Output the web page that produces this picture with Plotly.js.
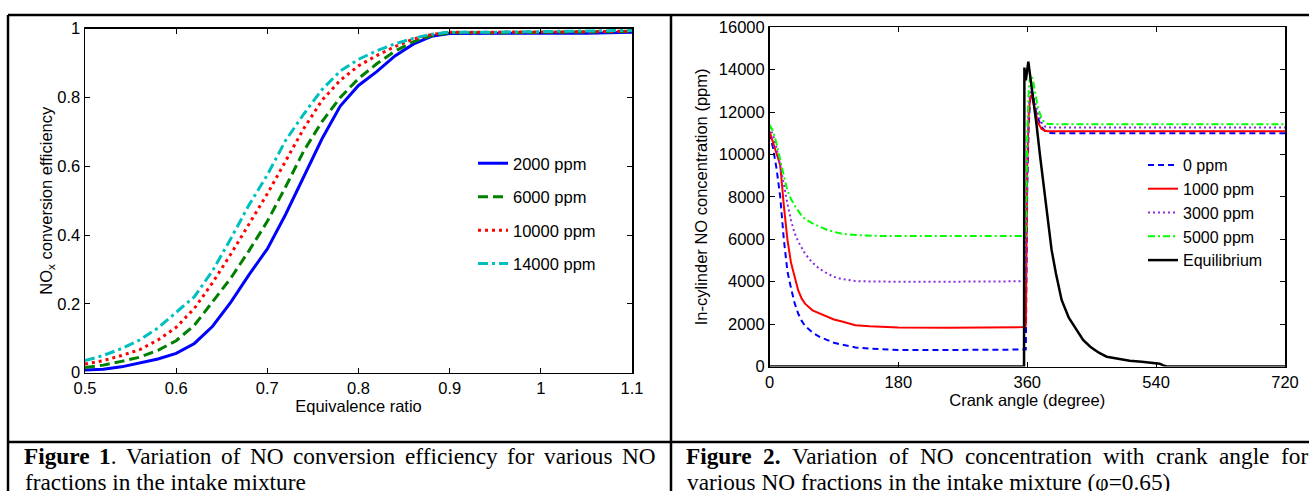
<!DOCTYPE html>
<html>
<head>
<meta charset="utf-8">
<script src="https://cdn.plot.ly/plotly-3.0.1.min.js"></script>
<style>
html,body{margin:0;padding:0;background:#fff;}
#chart{width:1309px;height:491px;}
</style>
</head>
<body>
<div id="chart"></div>
<script>
// ---------- Figure 1 data ----------
const phi = [0.5,0.52,0.54,0.56,0.58,0.6,0.62,0.64,0.66,0.68,0.7,0.72,0.74,0.76,0.78,0.8,0.82,0.84,0.86,0.88,0.9,0.95,1.0,1.05,1.1];
const eff2000  = [0.008,0.010,0.017,0.028,0.040,0.056,0.085,0.135,0.205,0.285,0.36,0.46,0.57,0.68,0.775,0.835,0.875,0.921,0.955,0.978,0.986,0.986,0.986,0.987,0.99];
const eff6000  = [0.015,0.022,0.033,0.045,0.065,0.093,0.138,0.205,0.275,0.355,0.44,0.54,0.645,0.73,0.80,0.855,0.898,0.935,0.962,0.980,0.988,0.988,0.989,0.99,0.992];
const eff10000 = [0.025,0.035,0.05,0.067,0.095,0.132,0.187,0.262,0.345,0.432,0.52,0.615,0.71,0.792,0.85,0.892,0.922,0.948,0.97,0.983,0.99,0.99,0.99,0.991,0.993];
const eff14000 = [0.035,0.05,0.07,0.095,0.13,0.175,0.221,0.297,0.39,0.488,0.575,0.675,0.752,0.823,0.877,0.911,0.936,0.956,0.972,0.984,0.99,0.99,0.991,0.992,0.995];
const fig1Names = ["2000 ppm","6000 ppm","10000 ppm","14000 ppm"];
const fig1XTicks = [0.5,0.6,0.7,0.8,0.9,1,1.1];
const fig1YTicks = [0,0.2,0.4,0.6,0.8,1];

// ---------- Figure 2 data ----------
const crankA = [0,5,10,15,20,25,30,35,40,45,50,60,70,80,90,100,120,140,160,180,250,357,358,359,360,362,364,366,368,370,375,380,385,390,400,500,720];
const no0    = [11000,10300,9300,8000,6000,4500,3700,3000,2500,2150,1900,1600,1400,1250,1120,1040,900,840,800,780,780,780,800,4500,8500,11300,12600,13000,12800,12300,11700,11300,11100,11020,11000,11000,11000];
const no1000 = [11100,10600,10000,9500,7600,6000,4900,4200,3600,3200,2950,2650,2500,2350,2220,2130,1950,1900,1870,1840,1830,1860,1950,6000,9500,11800,12700,12800,12500,12100,11500,11200,11120,11100,11100,11100,11100];
const no3000 = [11300,10900,10300,9500,8600,7700,6900,6300,5900,5600,5300,4900,4600,4400,4230,4130,4030,4010,4000,4000,4000,4020,4020,7000,10000,12200,13000,13100,12900,12600,11900,11500,11320,11280,11270,11270,11270];
const no5000 = [11400,11100,10500,9700,9000,8300,7900,7600,7350,7100,6950,6750,6600,6450,6350,6270,6200,6160,6150,6150,6150,6150,6150,8500,11000,13000,13700,13750,13500,13100,12200,11700,11480,11440,11430,11430,11430];
const crankEq = [0,355.5,356,358,361.5,366,370,373,378,385,390,394,400,408,418,429,438,448,460,471,490,503,520,536,545,550,555,720];
const noEq    = [0,0,14100,13500,14380,13300,12300,11400,9900,7900,6500,5500,4400,3137,2300,1722,1250,934,650,462,330,274,220,180,130,50,0,0];
const fig2Names = ["0 ppm","1000 ppm","3000 ppm","5000 ppm","Equilibrium"];
const fig2XTicks = [0,180,360,540,720];
const fig2YTicks = [0,2000,4000,6000,8000,10000,12000,14000,16000];

// ---------- captions ----------
const cap1Line1 = [["<b>Figure</b>",true],["<b>1</b>.",true],["Variation",false],["of",false],["NO",false],["conversion",false],["efficiency",false],["for",false],["various",false],["NO",false]];
const cap1Line2 = "fractions in the intake mixture";
const cap2Line1 = [["<b>Figure</b>",true],["<b>2.</b>",true],["Variation",false],["of",false],["NO",false],["concentration",false],["with",false],["crank",false],["angle",false],["for",false]];
const cap2Line2 = "various NO fractions in the intake mixture (φ=0.65)";

const W = 1309, H = 491;
const px = v => v / W;
const py = v => 1 - v / H;
const SANS = "Liberation Sans, Arial, sans-serif";
const SERIF = "Liberation Serif, Times New Roman, serif";

const traces = [];
const c1 = ["#0000FF","#008000","#FF0000","#00BFBF"];
const d1 = ["solid","10px,5px","3px,4px","10px,4px,3px,4px"];
[eff2000,eff6000,eff10000,eff14000].forEach((ys,i)=>{
  traces.push({x:phi,y:ys,type:"scatter",mode:"lines",name:fig1Names[i],
    xaxis:"x",yaxis:"y",legend:"legend",legendgroup:"a"+i,
    line:{color:c1[i],width:3,dash:d1[i]}});
});
const c2 = ["#0000FF","#FF0000","#8A2BE2","#00FF00","#000000"];
const d2 = ["6px,4px","solid","2px,3px","7px,3px,2px,3px","solid"];
[[crankA,no0],[crankA,no1000],[crankA,no3000],[crankA,no5000],[crankEq,noEq]].forEach((p,i)=>{
  traces.push({x:p[0],y:p[1],type:"scatter",mode:"lines",name:fig2Names[i],
    xaxis:"x2",yaxis:"y2",legend:"legend2",legendgroup:"b"+i,
    line:{color:c2[i],width:i===4?2.5:2,dash:d2[i]}});
});

const tickFont = {family:SANS,size:16.5,color:"#000"};
const axBase = {showline:true,linecolor:"#000",linewidth:1.5,mirror:"allticks",ticks:"inside",
  ticklen:5,tickwidth:1,tickcolor:"#000",showgrid:false,zeroline:false,tickfont:tickFont,fixedrange:true};

// measure words for justified caption lines
const cv = document.createElement("canvas").getContext("2d");
function measure(html,size){
  let w = 0;
  const parts = html.split(/(<b>.*?<\/b>)/).filter(s=>s.length);
  parts.forEach(p=>{
    const isB = p.startsWith("<b>");
    const t = p.replace(/<\/?b>/g,"");
    cv.font = (isB?"bold ":"") + size + "px 'Liberation Serif'";
    w += cv.measureText(t).width;
  });
  return w;
}
const CAP = 23.3;
const annotations = [];
function justify(words,x0,x1,yc){
  const ws = words.map(w=>measure(w[0],CAP));
  const total = ws.reduce((a,b)=>a+b,0);
  const gap = (x1-x0-total)/(words.length-1);
  let x = x0;
  words.forEach((w,i)=>{
    annotations.push({text:w[0],xref:"paper",yref:"paper",x:px(x),y:py(yc),xanchor:"left",yanchor:"middle",
      showarrow:false,borderpad:0,borderwidth:0,font:{family:SERIF,size:CAP,color:"#000"}});
    x += ws[i]+gap;
  });
}
justify(cap1Line1,24,655.5,456);
justify(cap2Line1,686,1308.3,456);
annotations.push({text:cap1Line2,xref:"paper",yref:"paper",x:px(24),y:py(482),xanchor:"left",yanchor:"middle",showarrow:false,borderpad:0,font:{family:SERIF,size:CAP,color:"#000"}});
annotations.push({text:cap2Line2,xref:"paper",yref:"paper",x:px(686),y:py(482),xanchor:"left",yanchor:"middle",showarrow:false,borderpad:0,font:{family:SERIF,size:CAP,color:"#000"}});

const bl = {type:"line",xref:"paper",yref:"paper",line:{color:"#000",width:2.5}};
const shapes = [
  Object.assign({},bl,{x0:px(8),x1:1,y0:py(15),y1:py(15)}),
  Object.assign({},bl,{x0:px(8),x1:px(8),y0:py(15),y1:0}),
  Object.assign({},bl,{x0:px(671),x1:px(671),y0:py(15),y1:0}),
  Object.assign({},bl,{x0:px(8),x1:1,y0:py(442),y1:py(442)})
];

const layout = {
  width:W,height:H,margin:{l:0,r:0,t:0,b:0},paper_bgcolor:"#fff",plot_bgcolor:"#fff",
  showlegend:true,
  font:{family:SANS,color:"#000"},
  xaxis:Object.assign({},axBase,{domain:[px(85),px(632)],range:[0.5,1.1],tickvals:fig1XTicks,anchor:"y",
    title:{text:"Equivalence ratio",font:{family:SANS,size:16.5,color:"#000"},standoff:0}}),
  yaxis:Object.assign({},axBase,{domain:[py(372.7),py(28.7)],range:[0,1],tickvals:fig1YTicks,anchor:"x",
    title:{text:"NO<sub>x</sub> conversion efficiency",font:{family:SANS,size:16.5,color:"#000"},standoff:0}}),
  xaxis2:Object.assign({},axBase,{domain:[px(769.5),px(1285)],range:[0,720],tickvals:fig2XTicks,anchor:"y2",
    title:{text:"Crank angle (degree)",font:{family:SANS,size:16.5,color:"#000"},standoff:0}}),
  yaxis2:Object.assign({},axBase,{domain:[py(366.5),py(27.3)],range:[0,16000],tickvals:fig2YTicks,tickformat:"d",anchor:"x2",
    title:{text:"In-cylinder NO concentration (ppm)",font:{family:SANS,size:16.5,color:"#000"},standoff:7}}),
  legend:{x:px(473),y:py(146),xanchor:"left",yanchor:"top",bgcolor:"rgba(0,0,0,0)",borderwidth:0,
    font:{family:SANS,size:16.5,color:"#000"},traceorder:"grouped",tracegroupgap:9},
  legend2:{x:px(1143),y:py(148),xanchor:"left",yanchor:"top",bgcolor:"rgba(0,0,0,0)",borderwidth:0,
    font:{family:SANS,size:16,color:"#000"},traceorder:"grouped",tracegroupgap:0},
  shapes:shapes,
  annotations:annotations
};

Plotly.newPlot("chart",traces,layout,{staticPlot:true,displayModeBar:false});
</script>
</body>
</html>
